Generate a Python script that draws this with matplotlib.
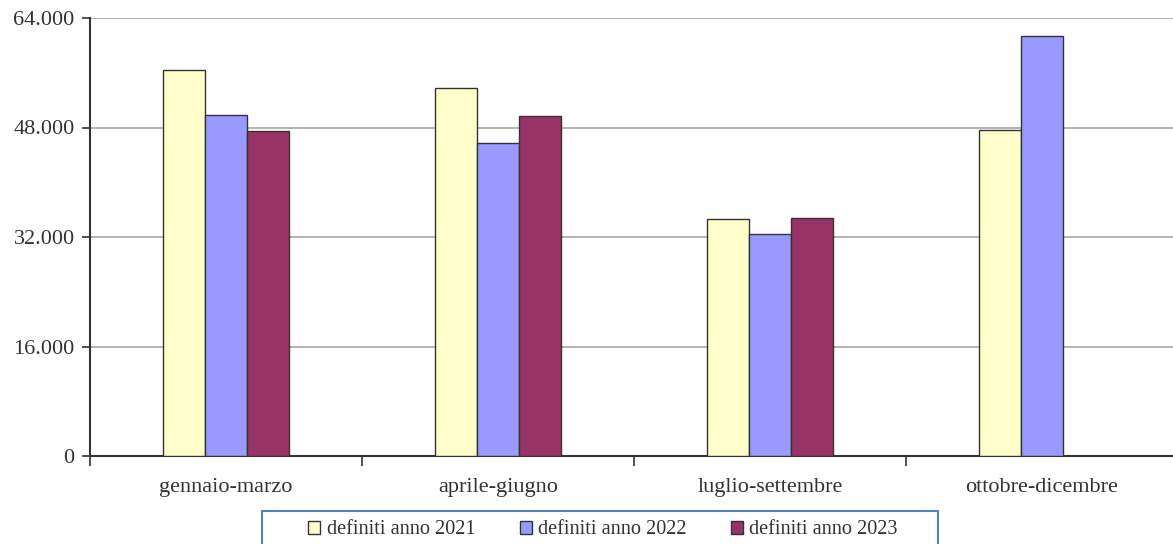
import matplotlib
matplotlib.use("Agg")
import matplotlib.pyplot as plt
from matplotlib.patches import Rectangle
from matplotlib.ticker import FuncFormatter
import numpy as np

plt.rcParams["font.family"] = ["Liberation Serif", "DejaVu Serif"]

categories = ["gennaio-marzo", "aprile-giugno", "luglio-settembre", "ottobre-dicembre"]
series_names = ["definiti anno 2021", "definiti anno 2022", "definiti anno 2023"]
v2021 = [56400, 53800, 34600, 47600]
v2022 = [49800, 45700, 32500, 61400]
v2023 = [47500, 49700, 34800, np.nan]
colors = ["#FFFFCC", "#9999FF", "#993366"]

W, H = 1173, 544
fig = plt.figure(figsize=(W / 100, H / 100), dpi=100)
ax = fig.add_axes([90 / W, 1 - 456 / H, 1088 / W, 438 / H])

x = np.arange(len(categories))
w = 0.155
for i, (vals, c, name) in enumerate(zip([v2021, v2022, v2023], colors, series_names)):
    ax.bar(x + (i - 1) * w, vals, width=w, color=c, edgecolor="#333333",
           linewidth=1.0, label=name, zorder=3)

ax.set_xlim(-0.5, 3.5)
ax.set_ylim(0, 64000)
ax.set_yticks(np.arange(0, 64001, 16000))
ax.yaxis.set_major_formatter(FuncFormatter(lambda v, p: f"{int(v):,}".replace(",", ".")))
ax.yaxis.grid(True, color="#A6A6A6", linewidth=1.2, zorder=0)

ax.set_xticks(x)
ax.set_xticklabels(categories)
ax.set_xticks(np.arange(-0.5, 3.6, 1), minor=True)
ax.tick_params(axis="x", which="major", length=0, labelsize=16, pad=16, colors="#333333")
ax.tick_params(axis="x", which="minor", length=7, width=1.2, direction="out", color="#333333")
ax.tick_params(axis="y", length=6, width=1.2, labelsize=16, pad=5, colors="#333333")
ax.tick_params(axis="both", labelcolor="#333333")

for s in ["top", "right"]:
    ax.spines[s].set_visible(False)
for s in ["left", "bottom"]:
    ax.spines[s].set_color("#333333")
    ax.spines[s].set_linewidth(1.5)

# legend box drawn separately (it runs off the bottom of the picture)
fig.patches.append(Rectangle((262 / W, -0.02), 676 / W, 0.02 + (H - 511) / H,
                             transform=fig.transFigure, facecolor="white",
                             edgecolor="#4F81BD", linewidth=1.5, zorder=1))
leg = fig.legend(loc="center", bbox_to_anchor=(603 / W, 1 - 530 / H),
                 ncol=3, frameon=False, fontsize=14.6,
                 handlelength=0.6, handleheight=0.6, handletextpad=0.3,
                 columnspacing=2.2, borderpad=0, borderaxespad=0)
leg.set_zorder(2)
for t in leg.get_texts():
    t.set_color("#333333")
for h in leg.legend_handles:
    h.set_edgecolor("#333333")

fig.savefig("out.png", dpi=100)
